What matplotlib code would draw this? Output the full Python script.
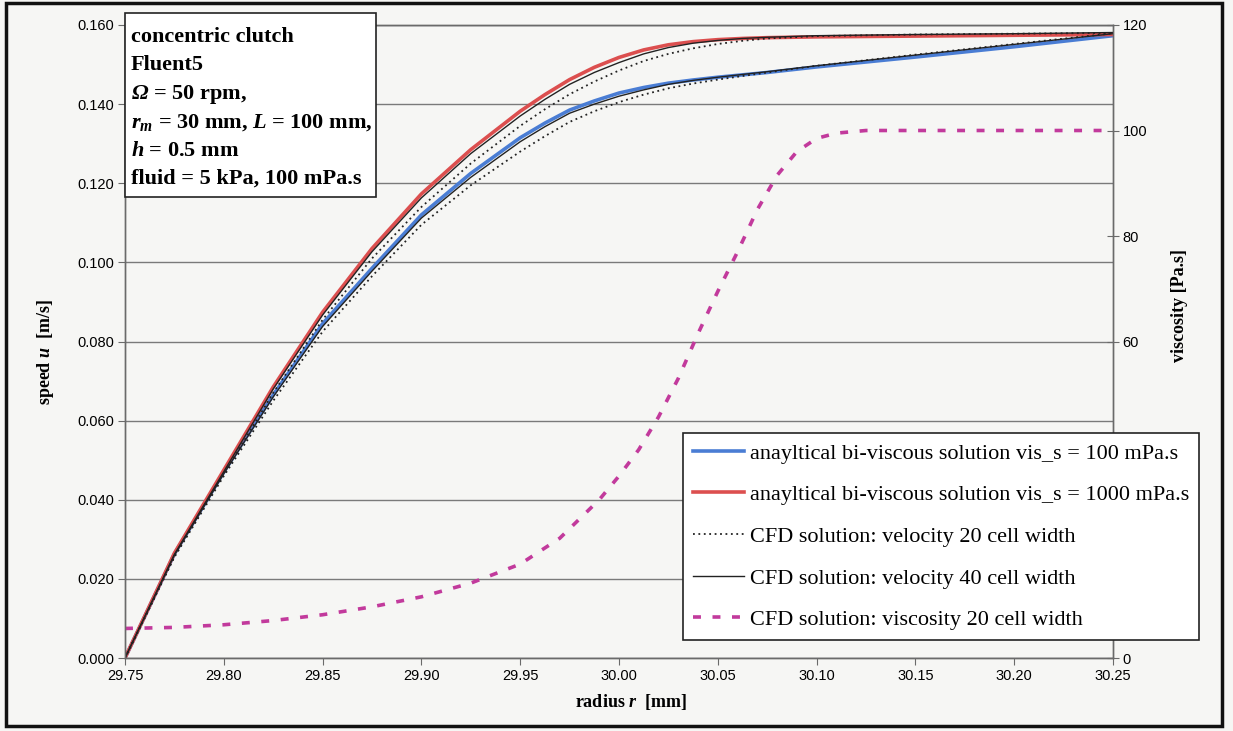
import matplotlib.pyplot as plt
from matplotlib.patches import Rectangle

# radius [mm]
r_grid = [29.75, 29.775, 29.80, 29.825, 29.85, 29.875, 29.90, 29.925, 29.95, 29.9625,
          29.975, 29.9875, 30.00, 30.0125, 30.025, 30.0375, 30.05, 30.0625, 30.075,
          30.10, 30.15, 30.20, 30.25]

# speed [m/s]
u_ana_100 = [0.0, 0.0263, 0.047, 0.0665, 0.0845, 0.0985, 0.1120, 0.1225, 0.1315, 0.1352,
             0.1385, 0.1408, 0.1428, 0.1442, 0.1453, 0.1461, 0.1468, 0.1474, 0.1480,
             0.1494, 0.1519, 0.1545, 0.1573]
u_ana_1000 = [0.0, 0.0265, 0.0475, 0.0685, 0.0874, 0.1035, 0.1173, 0.1285, 0.1382, 0.1424,
              0.1462, 0.1493, 0.1518, 0.1537, 0.1550, 0.1558, 0.1563, 0.1566, 0.1568,
              0.1570, 0.1572, 0.1574, 0.1576]
u_cfd20_100 = [0.0, 0.0255, 0.0460, 0.0650, 0.0825, 0.0965, 0.1095, 0.1195, 0.1280, 0.1319,
               0.1355, 0.1382, 0.1405, 0.1424, 0.1440, 0.1452, 0.1462, 0.1471, 0.1480,
               0.1497, 0.1525, 0.1552, 0.1579]
u_cfd20_1000 = [0.0, 0.0257, 0.0465, 0.0670, 0.0855, 0.1010, 0.1140, 0.1250, 0.1345, 0.1387,
                0.1425, 0.1457, 0.1485, 0.1509, 0.1527, 0.1541, 0.1552, 0.1560, 0.1566,
                0.1572, 0.1576, 0.1578, 0.1580]
u_cfd40_100 = [0.0, 0.0260, 0.0466, 0.0660, 0.0838, 0.0978, 0.1112, 0.1215, 0.1305, 0.1343,
               0.1377, 0.1400, 0.1420, 0.1436, 0.1450, 0.1460, 0.1468, 0.1475, 0.1482,
               0.1497, 0.1524, 0.1551, 0.1578]
u_cfd40_1000 = [0.0, 0.0262, 0.0471, 0.0680, 0.0867, 0.1027, 0.1163, 0.1275, 0.1370, 0.1412,
                0.1450, 0.1480, 0.1505, 0.1527, 0.1543, 0.1554, 0.1561, 0.1566, 0.1569,
                0.1573, 0.1576, 0.1578, 0.1581]

# viscosity [Pa.s]
r_vis = [29.75, 29.775, 29.80, 29.825, 29.85, 29.875, 29.90, 29.925, 29.95, 29.97,
         29.99, 30.00, 30.01, 30.02, 30.03, 30.04, 30.05, 30.06, 30.07, 30.08,
         30.09, 30.10, 30.11, 30.125, 30.25]
vis_cfd20 = [5.6, 5.8, 6.3, 7.1, 8.2, 9.7, 11.6, 14.2, 17.8, 22.7,
             30.0, 34.5, 39.5, 45.7, 53.0, 61.5, 69.5, 77.0, 85.0, 91.5,
             96.0, 98.5, 99.5, 100.0, 100.0]

x_ticks = [29.75, 29.80, 29.85, 29.90, 29.95, 30.00, 30.05, 30.10, 30.15, 30.20, 30.25]
u_ticks = [0.000, 0.020, 0.040, 0.060, 0.080, 0.100, 0.120, 0.140, 0.160]
vis_ticks = [0, 20, 40, 60, 80, 100, 120]
vis_ticklabels = ['0', '', '', '60', '80', '100', '120']  # 20 and 40 sit under the legend

labels = ['anayltical bi-viscous solution vis_s = 100 mPa.s',
          'anayltical bi-viscous solution vis_s = 1000 mPa.s',
          'CFD solution: velocity 20 cell width',
          'CFD solution: velocity 40 cell width',
          'CFD solution: viscosity 20 cell width']

plt.rcParams['mathtext.fontset'] = 'custom'
plt.rcParams['mathtext.rm'] = 'Liberation Serif'
plt.rcParams['mathtext.it'] = 'Liberation Serif:italic'
plt.rcParams['mathtext.bf'] = 'Liberation Serif:bold'
plt.rcParams['mathtext.bfit'] = 'Liberation Serif:bold:italic'

W, H = 1233, 731
bg = '#f6f6f4'
fig = plt.figure(figsize=(W / 100, H / 100), dpi=100, facecolor=bg)

left, right, top, bottom = 125, 1113, 25, 658
ax = fig.add_axes([left / W, 1 - bottom / H, (right - left) / W, (bottom - top) / H])
ax.set_facecolor(bg)
ax2 = ax.twinx()

blue = '#4a7dd4'
red = '#dc4f4f'
mag = '#c23a9c'

l1, = ax.plot(r_grid, u_ana_100, color=blue, lw=2.6, zorder=3)
l2, = ax.plot(r_grid, u_ana_1000, color=red, lw=2.6, zorder=3)
l3, = ax.plot(r_grid, u_cfd20_100, color='#222222', lw=1.3, ls=(0, (1, 2)), zorder=4)
ax.plot(r_grid, u_cfd20_1000, color='#222222', lw=1.3, ls=(0, (1, 2)), zorder=4)
l4, = ax.plot(r_grid, u_cfd40_100, color='#222222', lw=1.0, zorder=4)
ax.plot(r_grid, u_cfd40_1000, color='#222222', lw=1.0, zorder=4)
l5, = ax2.plot(r_vis, vis_cfd20, color=mag, lw=2.6, ls=(0, (2.2, 3.2)))

ax.set_xlim(29.75, 30.25)
ax.set_ylim(0, 0.16)
ax2.set_ylim(0, 120)
ax.set_xticks(x_ticks)
ax.set_xticklabels([f'{v:.2f}' for v in x_ticks])
ax.set_yticks(u_ticks)
ax.set_yticklabels([f'{v:.3f}' for v in u_ticks])
ax2.set_yticks(vis_ticks)
ax2.set_yticklabels(vis_ticklabels)
ax.yaxis.grid(True, color='#7a7a7a', lw=1.0)
ax.set_axisbelow(True)

for a in (ax, ax2):
    for s in a.spines.values():
        s.set_color('#6a6a6a')
        s.set_linewidth(1.0)
ax.tick_params(axis='both', direction='out', length=5, color='#6a6a6a',
               labelsize=10.5, labelfontfamily='Liberation Sans', pad=3)
ax2.tick_params(axis='y', direction='inout', length=8, color='#6a6a6a',
                labelsize=10.5, labelfontfamily='Liberation Sans', pad=3)

# axis titles
fig.text(631 / W, 1 - 702 / H, r'radius $\mathbfit{r}$  [mm]', ha='center', va='center',
         family='Liberation Serif', weight='bold', fontsize=13)
fig.text(46 / W, 1 - 352 / H, r'speed $\mathbfit{u}$  [m/s]', ha='center', va='center',
         rotation=90, family='Liberation Serif', weight='bold', fontsize=13)
fig.text(1180 / W, 1 - 305 / H, 'viscosity [Pa.s]', ha='center', va='center',
         rotation=90, family='Liberation Serif', weight='bold', fontsize=13)

# info box
fig.patches.append(Rectangle((125 / W, 1 - 197 / H), 251 / W, 184 / H,
                             transform=fig.transFigure, facecolor='white',
                             edgecolor='#222222', lw=1.2, zorder=6))
info = ['concentric clutch',
        'Fluent5',
        r'$\mathbfit{\Omega}$ = 50 rpm,',
        r'$\mathbfit{r}_{\mathbfit{m}}$ = 30 mm, $\mathbfit{L}$ = 100 mm,',
        r'$\mathbfit{h}$ = 0.5 mm',
        'fluid = 5 kPa, 100 mPa.s']
for i, line in enumerate(info):
    fig.text(131 / W, 1 - (42 + 28.4 * i) / H, line, ha='left', va='baseline',
             family='Liberation Serif', weight='bold', fontsize=16, zorder=7)

leg = fig.legend([l1, l2, l3, l4, l5], labels, loc='upper left',
                 bbox_to_anchor=(683 / W, 1 - 433 / H), borderaxespad=0,
                 prop={'family': 'Liberation Serif', 'size': 16},
                 frameon=True, fancybox=False, framealpha=1, edgecolor='#222222',
                 facecolor='white', handlelength=2.3, handletextpad=0.25,
                 labelspacing=0.95, borderpad=0.45)
leg.get_frame().set_linewidth(1.2)

# outer frame
fig.patches.append(Rectangle((6 / W, 1 - 726 / H), 1216 / W, 723 / H,
                             transform=fig.transFigure, fill=False,
                             edgecolor='#111111', lw=2.5, zorder=10))

fig.savefig('out.png', dpi=100, facecolor=bg)
